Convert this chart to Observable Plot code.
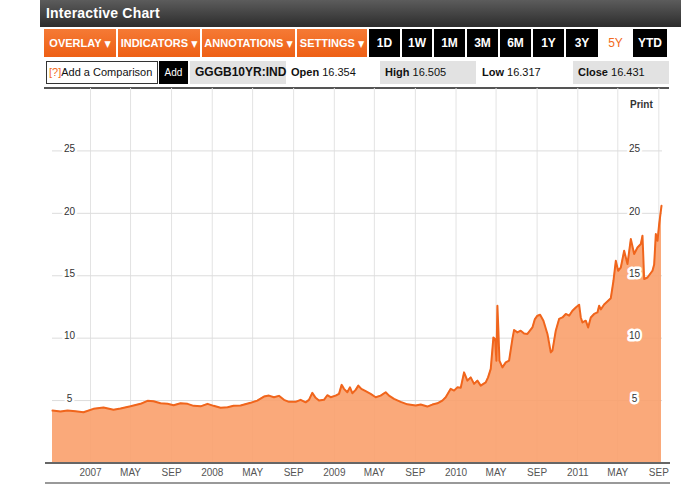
<!DOCTYPE html>
<html><head><meta charset="utf-8">
<script src="https://cdn.jsdelivr.net/npm/d3@7"></script>
<script src="https://cdn.jsdelivr.net/npm/@observablehq/plot@0.6"></script>
<style>
body{margin:0;background:#fff;font-family:"Liberation Sans",Arial,sans-serif;}
#wrap{position:relative;width:694px;height:486px;overflow:hidden;background:#fff;}
.abs{position:absolute;box-sizing:border-box;white-space:nowrap;}
#title{left:40px;top:0;width:641px;height:27px;background:linear-gradient(#5c5c5c,#2c2c2c);color:#fff;font-weight:bold;font-size:14px;line-height:27px;padding-left:6px;letter-spacing:0.2px;}
.ob{top:29px;height:28px;background:linear-gradient(#f57a35,#ee5f14);color:#fff;font-weight:bold;font-size:11px;line-height:28px;text-align:center;font-family:"Liberation Sans Narrow","Liberation Sans",Arial,sans-serif;font-stretch:condensed;}
.ob span{font-family:"DejaVu Sans";font-size:9px;}
.bb{top:29px;height:28px;background:#000;color:#fff;font-weight:bold;font-size:12px;line-height:28px;text-align:center;font-family:"Liberation Sans Narrow","Liberation Sans",Arial,sans-serif;}
.row{top:61px;height:23px;font-size:11px;line-height:23px;color:#111;}
.gray{background:#e2e2e2;}
#plot{position:absolute;left:0;top:88px;}
</style>
</head><body>
<div id="wrap">
  <div class="abs" id="title">Interactive Chart</div>
  <div class="abs ob" style="left:44px;width:72px;">OVERLAY <span>▼</span></div>
  <div class="abs ob" style="left:118px;width:82px;">INDICATORS <span>▼</span></div>
  <div class="abs ob" style="left:202px;width:93px;">ANNOTATIONS <span>▼</span></div>
  <div class="abs ob" style="left:297px;width:70px;">SETTINGS <span>▼</span></div>
  <div class="abs bb" style="left:369px;width:31px;">1D</div>
  <div class="abs bb" style="left:402px;width:30px;">1W</div>
  <div class="abs bb" style="left:434px;width:31px;">1M</div>
  <div class="abs bb" style="left:467px;width:31px;">3M</div>
  <div class="abs bb" style="left:500px;width:31px;">6M</div>
  <div class="abs bb" style="left:533px;width:31px;">1Y</div>
  <div class="abs bb" style="left:566px;width:32px;">3Y</div>
  <div class="abs bb" style="left:600px;width:31px;background:#fff;color:#f26a21;font-weight:normal;">5Y</div>
  <div class="abs bb" style="left:633px;width:34px;">YTD</div>

  <div class="abs row" style="left:46px;width:112px;border:1px solid #333;line-height:21px;padding-left:2px;"><span style="color:#f26a21;">[?]</span>Add a Comparison</div>
  <div class="abs row" style="left:159px;width:29px;background:#000;color:#fff;text-align:center;font-size:10px;">Add</div>
  <div class="abs row gray" style="left:190px;width:96px;font-weight:bold;font-size:12px;padding-left:5px;">GGGB10YR:IND</div>
  <div class="abs row" style="left:286px;width:88px;padding-left:5px;"><b>Open</b> 16.354</div>
  <div class="abs row gray" style="left:380px;width:96px;padding-left:5px;"><b>High</b> 16.505</div>
  <div class="abs row" style="left:477px;width:92px;padding-left:5px;"><b>Low</b> 16.317</div>
  <div class="abs row gray" style="left:573px;width:96px;padding-left:5px;"><b>Close</b> 16.431</div>
  <div class="abs" style="left:44px;top:87px;width:625px;height:2px;background:#555;"></div>
  <div id="plot"></div>
  <div class="abs" style="left:630px;top:99px;font-size:10px;font-weight:bold;color:#333;">Print</div>
  <div class="abs" style="left:45px;top:482px;width:625px;height:2px;background:#999;"></div>
</div>
<script>
// Greek 10Y government bond yield (GGGB10YR:IND), 5Y view
const dates = [
"2006-09-09","2006-10-03","2006-10-24","2006-11-17","2006-12-11","2007-01-10","2007-02-09","2007-03-11","2007-04-01","2007-05-01",
"2007-05-31","2007-06-21","2007-07-09","2007-07-30","2007-08-20","2007-09-07","2007-09-28","2007-10-19","2007-11-06","2007-11-27",
"2007-12-18","2008-01-05","2008-01-26","2008-02-16","2008-03-05","2008-03-26","2008-04-25","2008-05-15","2008-06-04","2008-06-19",
"2008-07-04","2008-07-19","2008-08-03","2008-08-18","2008-09-07","2008-09-22","2008-10-07","2008-10-17","2008-10-27","2008-11-06",
"2008-11-16","2008-12-01","2008-12-11","2008-12-21","2009-01-05","2009-01-15","2009-01-23","2009-01-30","2009-02-09","2009-02-17",
"2009-02-24","2009-03-06","2009-03-14","2009-03-23","2009-04-05","2009-04-20","2009-05-05","2009-05-20","2009-06-04","2009-06-14",
"2009-06-29","2009-07-19","2009-08-08","2009-09-02","2009-09-17","2009-10-07","2009-10-22","2009-11-06","2009-11-21","2009-12-01",
"2009-12-16","2009-12-26","2010-01-05","2010-01-15","2010-01-25","2010-02-04","2010-02-14","2010-02-24","2010-03-06","2010-03-16",
"2010-03-31","2010-04-07","2010-04-15","2010-04-23","2010-04-28","2010-05-02","2010-05-05","2010-05-08","2010-05-11","2010-05-20",
"2010-05-30","2010-06-09","2010-06-19","2010-06-24","2010-07-04","2010-07-14","2010-07-24","2010-08-03","2010-08-18","2010-08-25",
"2010-09-02","2010-09-10","2010-09-20","2010-10-02","2010-10-12","2010-10-17","2010-10-27","2010-11-06","2010-11-16","2010-11-26",
"2010-12-06","2010-12-16","2010-12-26","2011-01-05","2011-01-10","2011-01-15","2011-01-25","2011-02-01","2011-02-09","2011-02-19",
"2011-03-01","2011-03-06","2011-03-11","2011-03-21","2011-04-10","2011-04-18","2011-04-25","2011-05-02","2011-05-10","2011-05-20",
"2011-05-30","2011-06-09","2011-06-19","2011-06-29","2011-07-09","2011-07-14","2011-07-19","2011-07-29","2011-08-13","2011-08-18",
"2011-08-23","2011-08-28","2011-09-02","2011-09-09"
];
const yields = [
4.20,4.12,4.20,4.15,4.06,4.34,4.44,4.26,4.36,4.54,
4.74,4.98,4.94,4.78,4.74,4.62,4.78,4.74,4.58,4.54,
4.74,4.58,4.42,4.46,4.58,4.60,4.82,5.00,5.32,5.40,
5.27,5.38,5.06,4.90,4.90,5.06,4.86,5.06,5.62,5.22,
5.00,5.06,5.43,5.27,5.40,5.54,6.26,5.94,5.67,6.06,
5.59,5.86,6.20,5.94,5.75,5.54,5.27,5.40,5.67,5.40,
5.14,4.90,4.70,4.60,4.68,4.52,4.68,4.78,5.00,5.27,
5.94,5.80,6.06,6.02,7.26,6.60,6.86,6.34,6.60,6.20,
6.46,6.86,7.54,10.06,9.94,8.20,12.60,10.60,8.20,7.66,
8.06,8.20,9.94,10.66,10.46,10.60,10.38,10.34,10.86,11.50,
11.80,11.88,11.40,10.34,8.86,9.00,10.60,11.54,11.66,11.94,
11.80,12.20,12.46,12.68,11.66,11.26,11.40,10.86,11.66,11.94,
12.06,12.60,12.30,12.70,13.20,14.60,16.20,15.40,15.66,17.00,
15.94,17.94,16.74,17.26,17.54,18.20,14.74,14.86,15.40,15.90,
18.34,17.80,19.14,20.60
];
const xTickDates = ["2007-01-01","2007-05-01","2007-09-01","2008-01-01","2008-05-01","2008-09-01","2009-01-01","2009-05-01","2009-09-01","2010-01-01","2010-05-01","2010-09-01","2011-01-01","2011-05-01","2011-09-01"];
const xTickLabels = ["2007","MAY","SEP","2008","MAY","SEP","2009","MAY","SEP","2010","MAY","SEP","2011","MAY","SEP"];
const yTicks = [5, 10, 15, 20, 25];
const xDomain = ["2006-09-09", "2011-09-09"];

const parse = d3.utcParse("%Y-%m-%d");
const data = dates.map((d, i) => ({date: parse(d), value: yields[i]}));
const ticks = xTickDates.map((d, i) => ({date: parse(d), label: xTickLabels[i]}));

const chart = Plot.plot({
  width: 694,
  height: 398,
  marginLeft: 52,
  marginRight: 33,
  marginTop: 0,
  marginBottom: 23.5,
  style: {background: "transparent", fontFamily: "Liberation Sans, Arial, sans-serif"},
  x: {type: "utc", domain: xDomain.map(parse), axis: null},
  y: {domain: [0, 30], axis: null},
  marks: [
    Plot.ruleX(ticks, {x: "date", stroke: "#e3e3e3", strokeWidth: 1}),
    Plot.ruleY(yTicks, {stroke: "#dcdcdc", strokeWidth: 1, insetRight: -1}),
    Plot.areaY(data, {x: "date", y: "value", fill: "#f9a06c", fillOpacity: 0.9}),
    Plot.lineY(data, {x: "date", y: "value", stroke: "#f0651c", strokeWidth: 2}),
    Plot.ruleY([0], {stroke: "#666", strokeWidth: 2, insetLeft: -7, insetRight: -9}),
    Plot.text(ticks, {x: "date", text: "label", frameAnchor: "bottom", dy: 10, lineAnchor: "middle", fontSize: 10, fill: "#555", letterSpacing: 0.5}),
    Plot.text(yTicks, {y: d => d, text: d => String(d), frameAnchor: "left", dx: 17, dy: -2, textAnchor: "middle", fontSize: 10, fill: "#333", stroke: "white", strokeWidth: 5, paintOrder: "stroke"}),
    Plot.text(yTicks, {y: d => d, text: d => String(d), frameAnchor: "right", dx: -27, dy: -2, textAnchor: "middle", fontSize: 10, fill: "#333", stroke: "white", strokeWidth: 5, paintOrder: "stroke"})
  ]
});
document.getElementById("plot").appendChild(chart);
</script>
</body></html>
